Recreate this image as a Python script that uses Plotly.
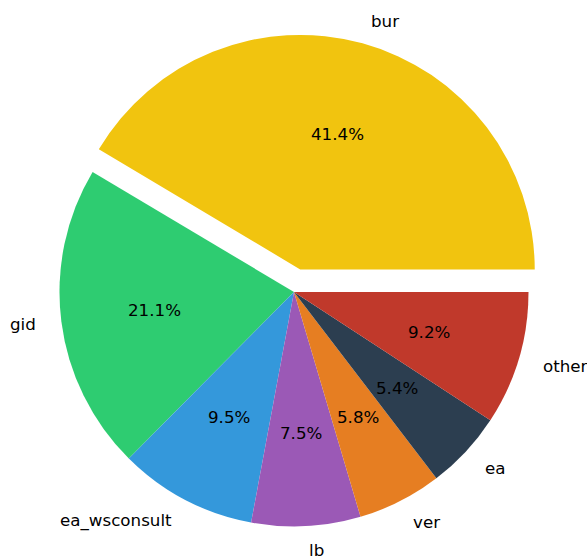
import numpy as np
import plotly.graph_objects as go

labels = ["bur", "gid", "ea_wsconsult", "lb", "ver", "ea", "other"]
values = [41.4, 21.1, 9.5, 7.5, 5.8, 5.4, 9.2]
colors = ["#f1c40f", "#2ecc71", "#3498db", "#9b59b6", "#e67e22", "#2c3e50", "#c0392b"]
pulls = [0.1, 0, 0, 0, 0, 0, 0]

W, H = 587, 560
dom_x = [0.06141, 0.94029]
dom_y = [0.01795, 0.93920]

vals = np.array(values, dtype=float)
frac = vals / vals.sum()
cum = np.concatenate([[0], np.cumsum(frac)])

# plotly (counterclockwise): first slice spans [rotation, rotation + its angle]
# measured clockwise from 12 o'clock -> make it start at 3 o'clock going CCW
rotation = 90 - 360 * frac[0]

fig = go.Figure(go.Pie(
    labels=labels, values=values, sort=False,
    direction="counterclockwise", rotation=rotation,
    marker=dict(colors=colors, line=dict(width=0)),
    pull=pulls, textinfo="none", hoverinfo="label+percent",
    domain=dict(x=dom_x, y=dom_y), showlegend=False,
))

# geometry as plotly computes it
bw, bh = W * (dom_x[1] - dom_x[0]), H * (dom_y[1] - dom_y[0])
r = min(bw, bh) / (2 + 2 * max(pulls))
cx = W * (dom_x[0] + dom_x[1]) / 2
cy = H * (1 - (dom_y[0] + dom_y[1]) / 2)

font = dict(family="DejaVu Sans", size=16.7, color="black")
annotations = []
for i, lab in enumerate(labels):
    mid = np.deg2rad(360 * (cum[i] + cum[i + 1]) / 2)
    ux, uy = np.cos(mid), np.sin(mid)
    ox = cx + pulls[i] * r * ux
    oy = cy - pulls[i] * r * uy
    # percentage at 0.6 r
    px, py = ox + 0.6 * r * ux, oy - 0.6 * r * uy
    annotations.append(dict(x=px / W, y=1 - py / H, xref="paper", yref="paper",
                            text="%.1f%%" % (frac[i] * 100), showarrow=False,
                            xanchor="center", yanchor="middle", font=font))
    lx, ly = ox + 1.1 * r * ux, oy - 1.1 * r * uy
    annotations.append(dict(x=lx / W, y=1 - ly / H, xref="paper", yref="paper",
                            text=lab, showarrow=False,
                            xanchor="left" if ux > 0 else "right",
                            yanchor="middle", font=font))

fig.update_layout(width=W, height=H, margin=dict(l=0, r=0, t=0, b=0),
                  paper_bgcolor="white", plot_bgcolor="white",
                  annotations=annotations)
fig.write_html("out.html", config={"displayModeBar": False},
               post_script="document.body.style.margin='0';"
                           "document.body.style.overflow='hidden';")
